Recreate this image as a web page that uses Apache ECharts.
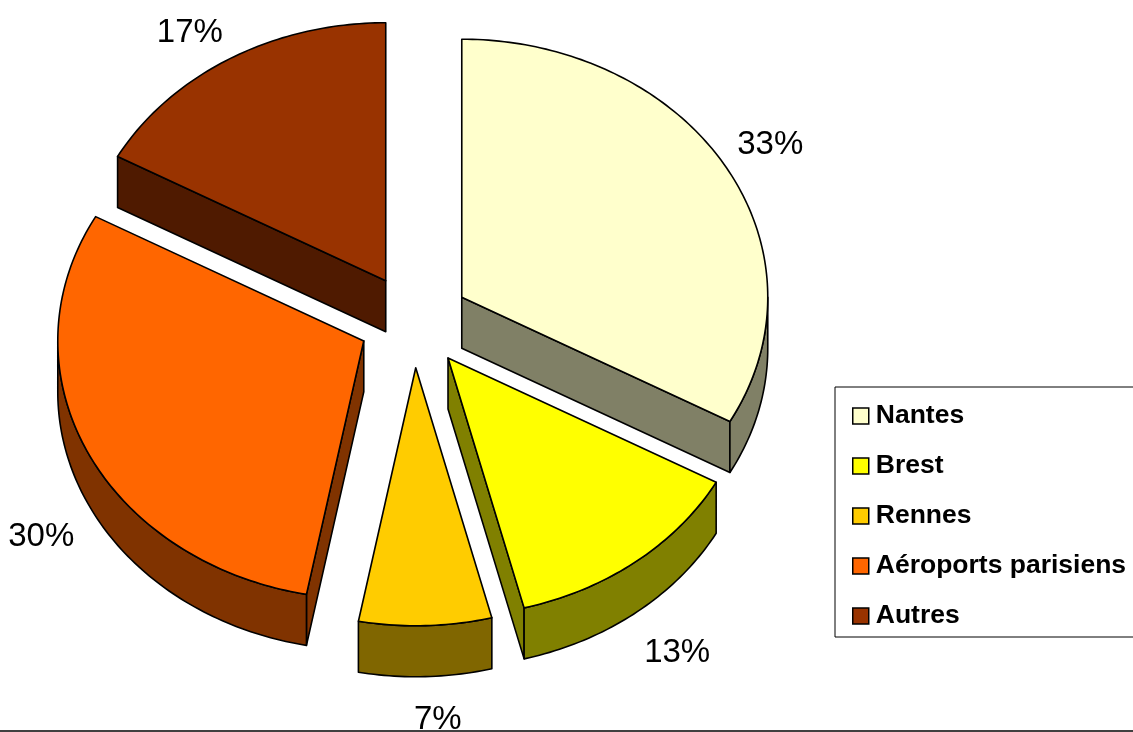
<!DOCTYPE html>
<html>
<head>
<meta charset="utf-8">
<title>Répartition par aéroport</title>
<script src="https://cdn.jsdelivr.net/npm/echarts@6/dist/echarts.min.js"></script>
<style>
  html, body { margin: 0; padding: 0; background: #fff; }
  #chart { width: 1133px; height: 732px; }
</style>
</head>
<body>
<div id="chart"></div>
<script>
// Airport shares (percent of total)
const categories = ['Nantes', 'Brest', 'Rennes', 'Aéroports parisiens', 'Autres'];
const shares = [33, 13, 7, 30, 17];

// Face colours: top face and the darker side walls
const topColors  = ['#FFFFCC', '#FFFF00', '#FFCC00', '#FF6600', '#993300'];
const sideColors = ['#808066', '#808000', '#806600', '#803300', '#4F1A00'];

// Pie geometry (tilted, exploded, extruded)
const geo = {
  cx: 414, cy: 321,     // centre of the unexploded top face
  rx: 306, ry: 258,     // ellipse radii of the top face
  explode: 55.5,        // slice offset along its bisector
  depth: 51,            // extrusion height
  labelGap: 14          // distance between slice rim and its label box
};

const total = shares.reduce((a, b) => a + b, 0);
const DEG = Math.PI / 180;

// Angles are measured clockwise from 12 o'clock
const slices = [];
let acc = 0;
shares.forEach((v) => {
  const s = acc / total * 360;
  acc += v;
  const e = acc / total * 360;
  slices.push({ s, e, m: (s + e) / 2 });
});
// Painter's order: slices whose bisector points towards the viewer go last
const order = slices.map((sl, i) => ({ i, d: -Math.cos(sl.m * DEG) }))
  .sort((a, b) => a.d - b.d).map(o => o.i);
const rank = [];
order.forEach((idx, r) => { rank[idx] = r; });

function makeRenderer(i) {
  return function (params, api) {
    const value = api.value(0);
    const sl = slices[i];
    const k = geo.ry / geo.rx;
    const ox = geo.explode * Math.sin(sl.m * DEG);
    const oy = -geo.explode * k * Math.cos(sl.m * DEG);
    const ax = geo.cx + ox, ay = geo.cy + oy;
    const P = (deg, dz) => [ax + geo.rx * Math.sin(deg * DEG), ay - geo.ry * Math.cos(deg * DEG) + dz];
    const arc = (a, b, dz) => {
      const pts = [];
      const n = Math.max(2, Math.ceil(Math.abs(b - a)));
      for (let j = 0; j <= n; j++) pts.push(P(a + (b - a) * j / n, dz));
      return pts;
    };
    const T = geo.depth;
    const base = rank[i] * 10;
    const lineStyle = { stroke: '#000', lineWidth: 1.6, lineJoin: 'round' };
    const children = [];

    // start radial face (visible when its outward normal points to the viewer)
    if (Math.sin(sl.s * DEG) < -1e-6) {
      const p = P(sl.s, 0), q = P(sl.s, T);
      children.push({ type: 'polygon', z2: base + 1,
        shape: { points: [[ax, ay], p, q, [ax, ay + T]] },
        style: Object.assign({ fill: sideColors[i] }, lineStyle) });
    }
    // end radial face
    if (Math.sin(sl.e * DEG) > 1e-6) {
      const p = P(sl.e, 0), q = P(sl.e, T);
      children.push({ type: 'polygon', z2: base + 1,
        shape: { points: [[ax, ay], p, q, [ax, ay + T]] },
        style: Object.assign({ fill: sideColors[i] }, lineStyle) });
    }
    // outer curved wall, front half only
    const a = Math.max(sl.s, 90), b = Math.min(sl.e, 270);
    if (b > a) {
      const pts = arc(a, b, 0).concat(arc(b, a, T));
      children.push({ type: 'polygon', z2: base + 2,
        shape: { points: pts },
        style: Object.assign({ fill: sideColors[i] }, lineStyle) });
    }
    // top face
    children.push({ type: 'polygon', z2: base + 5,
      shape: { points: [[ax, ay]].concat(arc(sl.s, sl.e, 0)) },
      style: Object.assign({ fill: topColors[i] }, lineStyle) });

    // percentage label just outside the rim, box anchored by its nearest corner
    const sm = Math.sin(sl.m * DEG), cm = Math.cos(sl.m * DEG);
    const rim = P(sl.m, cm < 0 ? T : 0);
    const lx = rim[0] + geo.labelGap * sm + (Math.abs(sm) <= 0.2 ? 12 : 0);
    const ly = rim[1] - geo.labelGap * cm + (cm < 0 ? 13 : 3);
    children.push({ type: 'text', z2: 200, x: lx, y: ly,
      style: { text: Math.round(value / total * 100) + '%', fill: '#000',
        fontSize: 33, fontFamily: 'Liberation Sans, Arial, sans-serif',
        align: sm > 0.2 ? 'left' : (sm < -0.2 ? 'right' : 'center'),
        verticalAlign: cm > 0 ? 'bottom' : 'top' } });

    return { type: 'group', children };
  };
}

const chart = echarts.init(document.getElementById('chart'), null, { renderer: 'canvas' });
chart.setOption({
  animation: false,
  backgroundColor: '#fff',
  legend: {
    orient: 'vertical',
    left: 835, top: 387,
    padding: [14, 30, 6, 17],
    itemGap: 20,
    itemWidth: 16, itemHeight: 16,
    icon: 'rect',
    backgroundColor: '#fff',
    borderColor: '#000',
    borderWidth: 1,
    borderRadius: 0,
    selectedMode: false,
    itemStyle: { borderColor: '#000', borderWidth: 1.5 },
    textStyle: { fontFamily: 'Liberation Sans, Arial, sans-serif', fontWeight: 'bold',
      fontSize: 26.5, lineHeight: 30, color: '#000', padding: [0, 0, 0, 2] },
    data: categories
  },
  graphic: [{
    type: 'line', silent: true,
    shape: { x1: 0, y1: 731, x2: 1133, y2: 731 },
    style: { stroke: '#000', lineWidth: 1.5 }
  }],
  series: categories.map((name, i) => ({
    type: 'custom',
    name,
    coordinateSystem: 'none',
    itemStyle: { color: topColors[i] },
    data: [[shares[i]]],
    renderItem: makeRenderer(i)
  }))
});
</script>
</body>
</html>
